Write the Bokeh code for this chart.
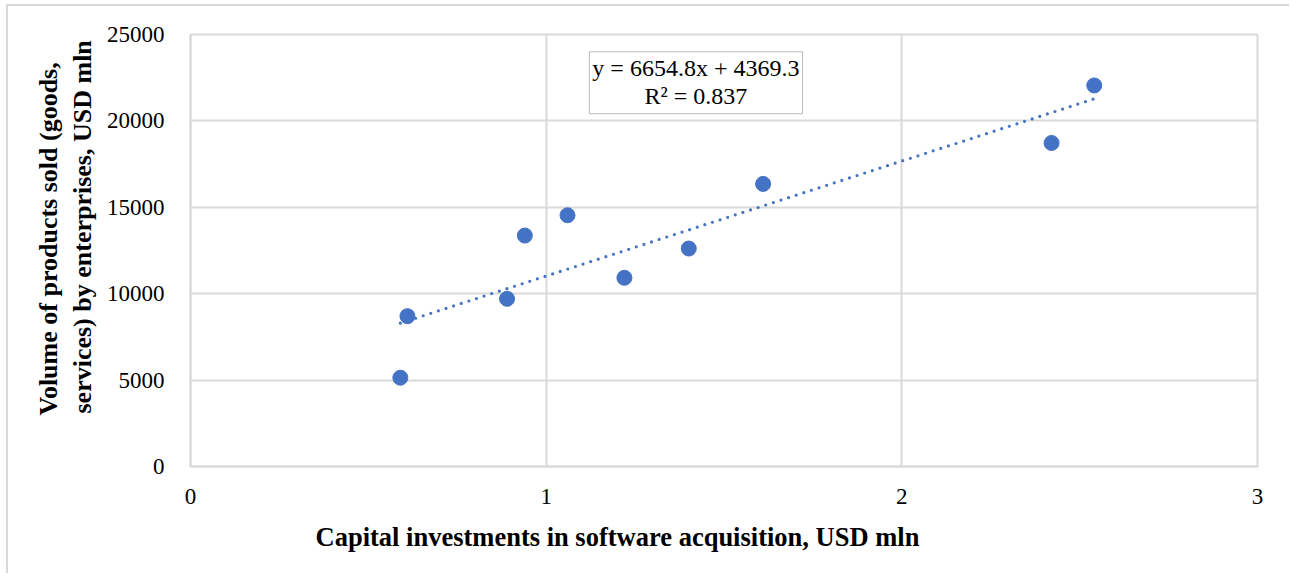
from bokeh.plotting import figure
from bokeh.models import FixedTicker, Label, BoxAnnotation, Title
from bokeh.embed import file_html
from bokeh.resources import INLINE

# Capital investments in software acquisition (USD mln) vs volume of products sold (USD mln)
invest = [0.590, 0.610, 0.890, 0.940, 1.060, 1.220, 1.401, 1.610, 2.421, 2.541]
sales = [5140, 8700, 9705, 13364, 14538, 10919, 12613, 16353, 18723, 22052]

# Linear trend reported on the chart
slope = 6654.8
intercept = 4369.3
r_squared = 0.837

x_ticks = [0, 1, 2, 3]
y_ticks = [0, 5000, 10000, 15000, 20000, 25000]

x_title = "Capital investments in software acquisition, USD mln"
y_title_lines = ["Volume of products sold (goods,", "services) by enterprises, USD mln"]

SERIF = "Liberation Serif"
GRID = "#d9d9d9"
BLUE = "#4472C4"

p = figure(
    width=1283, height=569,
    x_range=(0, 3), y_range=(0, 25000),
    output_backend="svg", toolbar_location=None,
    min_border_left=182, min_border_right=34,
    min_border_top=28, min_border_bottom=109,
)
p.styles = {
    "border-left": f"2px solid {GRID}",
    "border-top": f"2px solid {GRID}",
    "margin-left": "6px",
    "margin-top": "4px",
}

p.outline_line_color = GRID
p.outline_line_width = 2
p.background_fill_color = "white"
p.border_fill_color = "white"

for g in (p.xgrid, p.ygrid):
    g.grid_line_color = GRID
    g.grid_line_width = 2

p.xaxis.ticker = FixedTicker(ticks=x_ticks)
p.yaxis.ticker = FixedTicker(ticks=y_ticks)

for ax in (p.xaxis, p.yaxis):
    ax.axis_line_color = GRID
    ax.axis_line_width = 2
    ax.major_tick_line_color = None
    ax.minor_tick_line_color = None
    ax.major_label_text_font = SERIF
    ax.major_label_text_font_size = "23px"
    ax.major_label_text_color = "#000000"

p.xaxis.major_label_standoff = 16
p.yaxis.major_label_standoff = 20

# axis titles sit a little off-centre, so they are side titles with an offset
title_style = dict(text_font=SERIF, text_font_style="bold",
                   text_color="#000000", align="left")
p.add_layout(Title(text=x_title, offset=125, standoff=27, text_font_size="26.5px",
                   **title_style), "below")
# inner line first (closest to the axis), then the outer line
p.add_layout(Title(text=y_title_lines[1], offset=53, standoff=14, text_font_size="26px",
                   **title_style), "left")
p.add_layout(Title(text=y_title_lines[0], offset=51, standoff=-8, text_font_size="26px",
                   **title_style), "left")

# dotted linear trendline over the observed x span
x0, x1 = min(invest), max(invest)
p.line([x0, x1], [slope * x0 + intercept, slope * x1 + intercept],
       line_color=BLUE, line_width=3.2, line_dash="0 8", line_cap="round")

p.scatter(invest, sales, size=15, fill_color=BLUE, line_color=BLUE, marker="circle")

# equation box
box = BoxAnnotation(left=1.1215, right=1.7207, top=24000, bottom=20416,
                    fill_color="white", fill_alpha=1.0,
                    line_color="#262626", line_width=1)
p.add_layout(box)
eq_text = f"y = {slope}x + {intercept}"
r2_text = f"R² = {r_squared}"
p.add_layout(Label(x=1.421, y=23035, text=eq_text,
                   text_font=SERIF, text_font_size="24px", text_align="center",
                   text_baseline="middle", text_color="#000000"))
p.add_layout(Label(x=1.421, y=21457, text=r2_text,
                   text_font=SERIF, text_font_size="24px", text_align="center",
                   text_baseline="middle", text_color="#000000"))

open("out.html", "w").write(file_html(p, INLINE))
